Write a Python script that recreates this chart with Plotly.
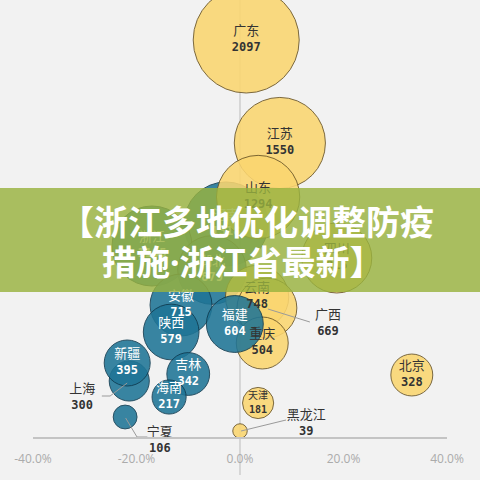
import plotly.graph_objects as go

# ---- data (drawing order) ----
names = ["广东", "江苏", "河南", "山东", "浙江", "四川", "湖北", "云南", "安徽", "广西", "重庆",
         "福建", "陕西", "吉林", "北京", "上海", "新疆", "海南", "天津", "宁夏", "黑龙江"]
values = [2097, 1550, 1318, 1294, 1195, 915, 879, 748, 715, 669, 504,
          604, 579, 342, 328, 300, 395, 217, 181, 106, 39]
change_pct = [1.2, 7.7, -2.7, 3.5, -17.0, 18.7, -5.4, 3.3, -11.4, 5.2, 4.3,
              -1.0, -13.3, -10.0, 33.2, -21.4, -21.8, -13.7, 3.5, -22.2, 0.0]
level = [398, 295, 214, 241, 192, 180, 168, 141, 133, 130, 95,
         114, 106, 64, 63, 57, 75, 41, 35, 21, 7]
group = ["up", "up", "down", "up", "down", "up", "down", "up", "down", "up", "up",
         "down", "down", "down", "up", "down", "down", "down", "up", "down", "up"]
tick_vals = [-40, -20, 0, 20, 40]
tick_text = ["-40.0%", "-20.0%", "0.0%", "20.0%", "40.0%"]

# labels placed outside their bubbles (with leader lines)
outside = {
    "上海": {"x": -30.5, "y": 40, "path": [(-21.8, 55), (-25.1, 42), (-26.7, 42)]},
    "宁夏": {"x": -15.5, "y": -3, "path": [(-22.1, 20), (-19.9, 1), (-17.9, 1)]},
    "黑龙江": {"x": 12.8, "y": 14, "path": [(0.2, 7), (8.9, 18)]},
    "广西": {"x": 17.0, "y": 114, "path": [(5.4, 129), (13.5, 116)]},
}

YELLOW = "#fbd670"
YELLOW_LINE = "#6b5627"
BLUE = "#1f7596"
BLUE_LINE = "#0f3b50"
sizeref = 2 * max(values) / (106 ** 2)

fig = go.Figure()

# bubbles
for i, n in enumerate(names):
    up = group[i] == "up"
    fig.add_trace(go.Scatter(
        x=[change_pct[i]], y=[level[i]], mode="markers",
        marker=dict(size=[values[i]], sizemode="area", sizeref=sizeref,
                    color=YELLOW if up else BLUE, opacity=0.88,
                    line=dict(color=YELLOW_LINE if up else BLUE_LINE, width=1)),
        cliponaxis=False, hoverinfo="skip", showlegend=False))

# leader lines and labels
for i, n in enumerate(names):
    up = group[i] == "up"
    small = values[i] < 250
    if n in outside:
        o = outside[n]
        fig.add_trace(go.Scatter(x=[p[0] for p in o["path"]], y=[p[1] for p in o["path"]],
                                 mode="lines", line=dict(color="#9a9a9a", width=1),
                                 hoverinfo="skip", showlegend=False, cliponaxis=False))
        lx, ly, col = o["x"], o["y"], "#333333"
        nsize, vsize, off = 13, 12, 8
    else:
        lx, ly = change_pct[i], level[i]
        col = "#333333" if up else "#ffffff"
        nsize, vsize, off = (10, 10, 7) if small and up else (13, 12, 8)
    fig.add_trace(go.Scatter(
        x=[lx], y=[ly + off], mode="text", text=[n],
        textfont=dict(family="Noto Sans CJK SC", size=nsize, color=col),
        cliponaxis=False, hoverinfo="skip", showlegend=False))
    fig.add_trace(go.Scatter(
        x=[lx], y=[ly - off], mode="text", text=[f"<b>{values[i]}</b>"],
        textfont=dict(family="DejaVu Sans Mono", size=vsize, color=col),
        cliponaxis=False, hoverinfo="skip", showlegend=False))

# vertical reference line
fig.add_shape(type="line", xref="x", yref="y", x0=0, x1=0, y0=-37, y1=460,
              line=dict(color="#c4c4c4", width=1.2), layer="below")

# banner overlay
fig.add_shape(type="rect", xref="paper", yref="y", x0=-0.1, x1=1.1, y0=146, y1=250,
              fillcolor="rgba(152,178,62,0.82)", line=dict(width=0), layer="above")
fig.add_annotation(x=1.4, y=218, xref="x", yref="y", showarrow=False,
                   text="<b>【浙江多地优化调整防疫</b>",
                   font=dict(family="Noto Sans CJK SC", size=34, color="#ffffff"))
fig.add_annotation(x=0.6, y=178, xref="x", yref="y", showarrow=False,
                   text="<b>措施<span style=\"font-family:'Noto Sans'\">·</span>浙江省最新】</b>",
                   font=dict(family="Noto Sans CJK SC", size=34, color="#ffffff"))

fig.update_layout(
    width=480, height=480,
    margin=dict(l=33, r=33, t=0, b=0),
    paper_bgcolor="#f2f2f2", plot_bgcolor="#f2f2f2",
    xaxis=dict(range=[-40, 40], tickvals=tick_vals, ticktext=tick_text,
               anchor="free", position=42 / 480,
               showgrid=False, zeroline=False, showline=True,
               linecolor="#c4c4c4", linewidth=1.5, ticks="",
               tickfont=dict(family="Open Sans", size=12, color="#ababab"),
               ticklabelstandoff=10, fixedrange=True),
    yaxis=dict(range=[-42, 438], visible=False, fixedrange=True),
    showlegend=False,
)

fig.write_html("out.html", config={"displayModeBar": False},
               post_script="document.body.style.margin='0';"
                           "document.body.style.background='#f2f2f2';")
